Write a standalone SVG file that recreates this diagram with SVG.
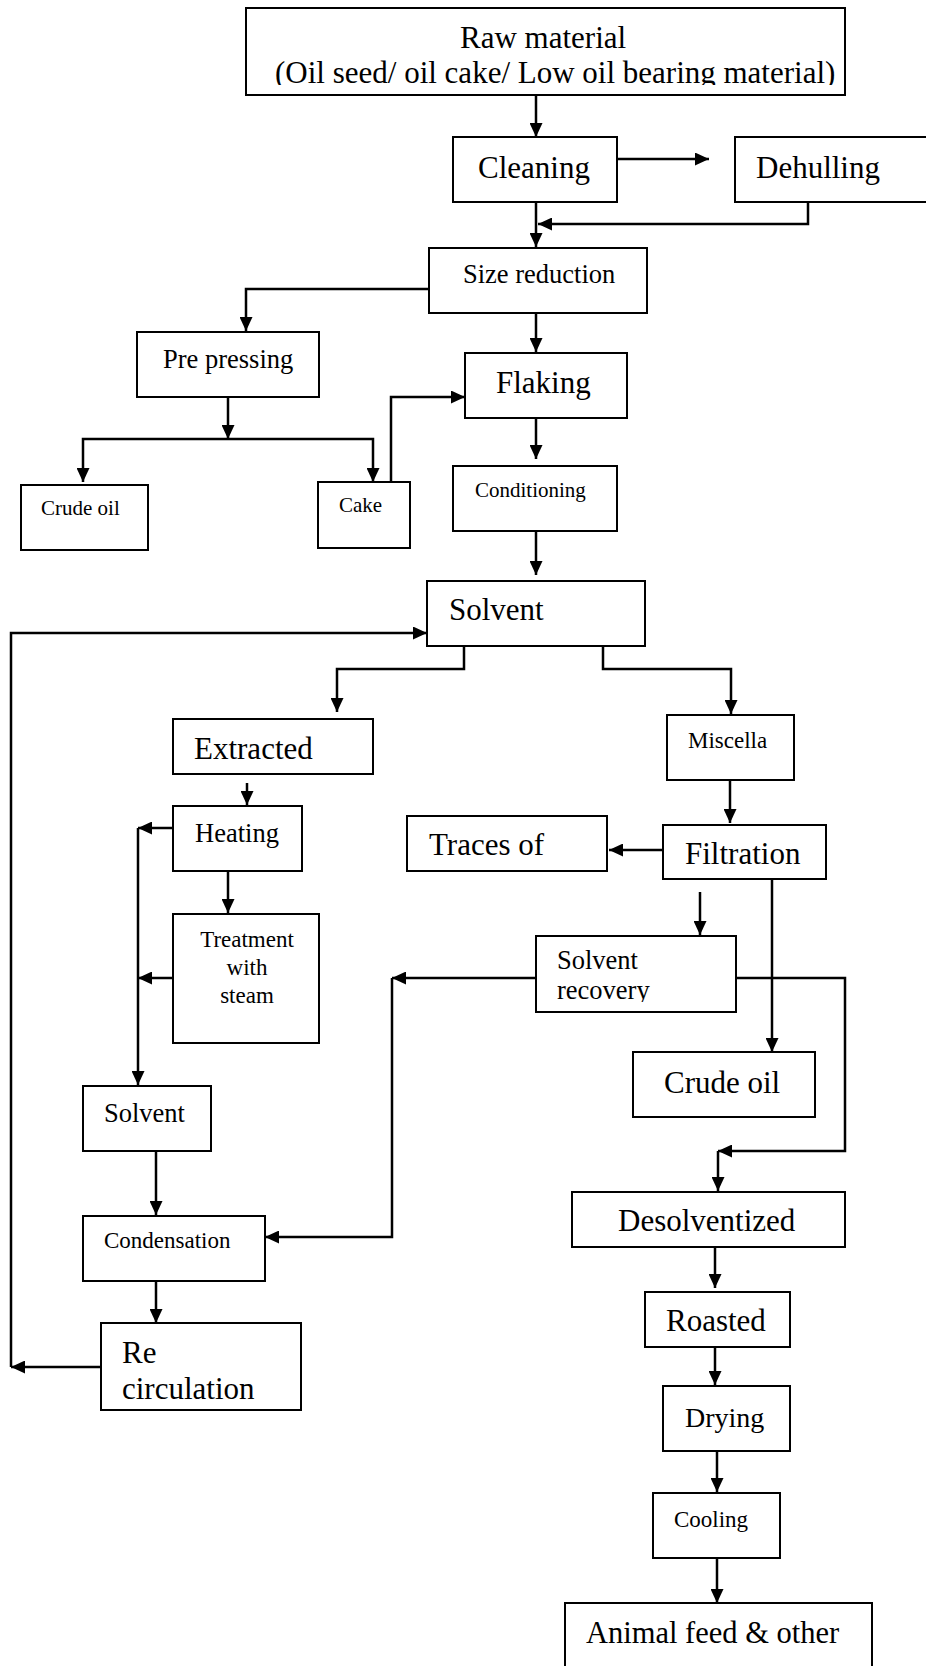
<svg xmlns="http://www.w3.org/2000/svg" width="926" height="1666" viewBox="0 0 926 1666">
<style>
.box{fill:#fff;stroke:#000;stroke-width:2}
.c{fill:none;stroke:#000;stroke-width:2.5}
.a{marker-end:url(#ah)}
text{font-family:"Liberation Serif","Times New Roman",serif;fill:#000}
.L{font-size:31px}
.M{font-size:26.5px}
.S{font-size:23px}
.T{font-size:21px}
</style>
<defs>
<marker id="ah" markerUnits="userSpaceOnUse" markerWidth="15" markerHeight="13" refX="14" refY="6.5" orient="auto">
<path d="M0,0 L14,6.5 L0,13 z" fill="#000"/>
</marker>
<clipPath id="clipRaw"><rect x="246" y="8" width="599" height="77"/></clipPath>
<clipPath id="clipRec"><rect x="536" y="936" width="200" height="66"/></clipPath>
</defs>
<rect width="926" height="1666" fill="#fff"/>

<g id="connectors">
<path class="c a" d="M536,95 V137"/>
<path class="c a" d="M617,159 H709"/>
<path class="c a" d="M808,202 V224 H538"/>
<path class="c a" d="M536,202 V247"/>
<path class="c a" d="M429,289 H246 V331"/>
<path class="c a" d="M536,311 V352"/>
<path class="c a" d="M228,397 V439"/>
<path class="c a" d="M228,439 H83 V482"/>
<path class="c a" d="M228,439 H373 V482"/>
<path class="c a" d="M391,482 V397 H465"/>
<path class="c a" d="M536,418 V459"/>
<path class="c a" d="M536,531 V575"/>
<path class="c a" d="M464,646 V669 H337 V712"/>
<path class="c a" d="M603,646 V669 H731 V714"/>
<path class="c a" d="M247,783 V805"/>
<path class="c a" d="M173,828 H138"/>
<path class="c a" d="M138,828 V1085"/>
<path class="c a" d="M173,978 H138"/>
<path class="c a" d="M228,871 V913"/>
<path class="c a" d="M156,1151 V1215"/>
<path class="c a" d="M536,978 H392"/>
<path class="c a" d="M392,978 V1237 H265"/>
<path class="c a" d="M156,1281 V1323"/>
<path class="c a" d="M101,1367 H11"/>
<path class="c a" d="M11,1367 V633 H427"/>
<path class="c a" d="M730,780 V823"/>
<path class="c a" d="M663,850 H609"/>
<path class="c a" d="M700,892 V935"/>
<path class="c a" d="M772,879 V1052"/>
<path class="c a" d="M736,978 H845 V1151 H718"/>
<path class="c a" d="M718,1151 V1191"/>
<path class="c a" d="M715,1247 V1288"/>
<path class="c a" d="M715,1345 V1385"/>
<path class="c a" d="M717,1451 V1492"/>
<path class="c a" d="M717,1558 V1603"/>
</g>

<g id="raw-material">
<rect class="box" x="246" y="8" width="599" height="87"/>
<text class="L" x="460" y="48">Raw material</text>
<text class="L" x="275" y="83" clip-path="url(#clipRaw)">(Oil seed/ oil cake/ Low oil bearing material)</text>
</g>
<g id="cleaning">
<rect class="box" x="453" y="137" width="164" height="65"/>
<text class="L" x="478" y="178">Cleaning</text>
</g>
<g id="dehulling">
<rect class="box" x="735" y="137" width="200" height="65"/>
<text class="L" x="756" y="178">Dehulling</text>
</g>
<g id="size-reduction">
<rect class="box" x="429" y="248" width="218" height="65"/>
<text class="M" x="463" y="283">Size reduction</text>
</g>
<g id="pre-pressing">
<rect class="box" x="137" y="332" width="182" height="65"/>
<text class="M" x="163" y="368">Pre pressing</text>
</g>
<g id="flaking">
<rect class="box" x="465" y="353" width="162" height="65"/>
<text class="L" x="496" y="393">Flaking</text>
</g>
<g id="crude-oil-1">
<rect class="box" x="21" y="485" width="127" height="65"/>
<text class="T" x="41" y="515">Crude oil</text>
</g>
<g id="cake">
<rect class="box" x="318" y="482" width="92" height="66"/>
<text class="T" x="339" y="512">Cake</text>
</g>
<g id="conditioning">
<rect class="box" x="453" y="466" width="164" height="65"/>
<text class="T" x="475" y="497">Conditioning</text>
</g>
<g id="solvent">
<rect class="box" x="427" y="581" width="218" height="65"/>
<text class="L" x="449" y="620">Solvent</text>
</g>
<g id="extracted">
<rect class="box" x="173" y="719" width="200" height="55"/>
<text class="L" x="194" y="759">Extracted</text>
</g>
<g id="miscella">
<rect class="box" x="667" y="715" width="127" height="65"/>
<text class="S" x="688" y="748">Miscella</text>
</g>
<g id="heating">
<rect class="box" x="173" y="806" width="129" height="65"/>
<text class="M" x="195" y="842">Heating</text>
</g>
<g id="traces-of">
<rect class="box" x="407" y="816" width="200" height="55"/>
<text class="L" x="429" y="855">Traces of</text>
</g>
<g id="filtration">
<rect class="box" x="663" y="825" width="163" height="54"/>
<text class="L" x="685" y="864">Filtration</text>
</g>
<g id="treatment-with-steam">
<rect class="box" x="173" y="914" width="146" height="129"/>
<text class="S" x="247" y="947" text-anchor="middle">Treatment</text>
<text class="S" x="247" y="975" text-anchor="middle">with</text>
<text class="S" x="247" y="1003" text-anchor="middle">steam</text>
</g>
<g id="solvent-recovery">
<rect class="box" x="536" y="936" width="200" height="76"/>
<text class="M" x="557" y="969">Solvent</text>
<text class="M" x="557" y="999" clip-path="url(#clipRec)">recovery</text>
</g>
<g id="crude-oil-2">
<rect class="box" x="633" y="1052" width="182" height="65"/>
<text class="L" x="664" y="1093">Crude oil</text>
</g>
<g id="solvent-2">
<rect class="box" x="83" y="1086" width="128" height="65"/>
<text class="M" x="104" y="1122">Solvent</text>
</g>
<g id="condensation">
<rect class="box" x="83" y="1216" width="182" height="65"/>
<text class="S" x="104" y="1248">Condensation</text>
</g>
<g id="desolventized">
<rect class="box" x="572" y="1192" width="273" height="55"/>
<text class="L" x="618" y="1231">Desolventized</text>
</g>
<g id="re-circulation">
<rect class="box" x="101" y="1323" width="200" height="87"/>
<text class="L" x="122" y="1363">Re</text>
<text class="L" x="122" y="1399">circulation</text>
</g>
<g id="roasted">
<rect class="box" x="645" y="1292" width="145" height="55"/>
<text class="L" x="666" y="1331">Roasted</text>
</g>
<g id="drying">
<rect class="box" x="663" y="1386" width="127" height="65"/>
<text class="L" x="685" y="1427" style="font-size:28px">Drying</text>
</g>
<g id="cooling">
<rect class="box" x="653" y="1493" width="127" height="65"/>
<text class="S" x="674" y="1527">Cooling</text>
</g>
<g id="animal-feed">
<rect class="box" x="565" y="1603" width="307" height="80"/>
<text class="L" x="586" y="1643" style="font-size:30.5px">Animal feed &amp; other</text>
</g>
</svg>
